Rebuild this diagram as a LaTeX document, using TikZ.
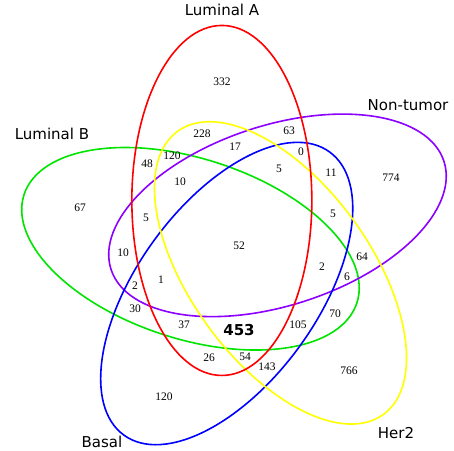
\documentclass[tikz,border=0pt]{standalone}
\usepackage{fontspec}
\setmainfont{Liberation Serif}
\newfontfamily\labelfont{DejaVu Sans}
\usetikzlibrary{positioning}
\definecolor{vgreen}{RGB}{0,228,0}
\definecolor{vpurple}{RGB}{140,0,255}
\definecolor{vblue}{RGB}{0,0,255}
\definecolor{vyellow}{RGB}{255,255,0}
\tikzset{
set/.style={line width=1.6pt},
count/.style={inner sep=0pt, font=\fontsize{11.5}{11.5}\selectfont},
setname/.style={inner sep=0pt, font=\labelfont\fontsize{15}{15}\selectfont},
}

\begin{document}
\begin{tikzpicture}[x=1pt, y=1pt]
    \useasboundingbox (0,0) rectangle (454,450);
    \coordinate (O) at (239.4,203.8);
    \coordinate (cA) at ([shift={(111:49)}]O);
    \coordinate (cNT) at ([shift={(39:49)}]O);
    \coordinate (cB) at ([shift={(183:49)}]O);
    \coordinate (cBas) at ([shift={(255:49)}]O);
    \coordinate (cH) at ([shift={(327:49)}]O);

    \draw[set, vgreen, rotate around={162:(cB)}] (cB) ellipse [x radius=175, y radius=90];
    \draw[set, vpurple, rotate around={18:(cNT)}] (cNT) ellipse [x radius=175, y radius=90];
    \draw[set, vblue, rotate around={54:(cBas)}] (cBas) ellipse [x radius=175, y radius=90];
    \draw[set, vyellow, rotate around={-54:(cH)}] (cH) ellipse [x radius=175, y radius=90];
    \draw[set, red, rotate around={90:(cA)}] (cA) ellipse [x radius=175, y radius=90];

    % set names
    \node[setname] (lumA) at (222,440) {Luminal A};
    \node[setname] (nontumor) at (408,345) {Non-tumor};
    \node[setname] (lumB) at (52,316) {Luminal B};
    \node[setname] (basal) at (102,8) {Basal};
    \node[setname] (her2) at (396,17) {Her2};

    % counts
    \node[count] (n332) at (222,368) {332};
    \node[count] (n228) at (202,316) {228};
    \node[count] (n63) at (289,319) {63};
    \node[count] (n17) at (235,303) {17};
    \node[count] (n0) at (301,298) {0};
    \node[count] (n48) at (147,286) {48};
    \node[count] (n120a) at (172,294) {120};
    \node[count] (n11) at (331,277) {11};
    \node[count] (n774) at (391,272) {774};
    \node[count] (n5a) at (279,281) {5};
    \node[count] (n10a) at (180,268) {10};
    \node[count] (n67) at (80,242) {67};
    \node[count] (n5b) at (146,232) {5};
    \node[count] (n5c) at (333,236) {5};
    \node[count] (n52) at (239,204) {52};
    \node[count] (n10b) at (123,197) {10};
    \node[count] (n64) at (362,193) {64};
    \node[count] (n2a) at (322,183) {2};
    \node[count] (n1) at (161,170) {1};
    \node[count] (n2b) at (135,164) {2};
    \node[count] (n6) at (347,173) {6};
    \node[count] (n30) at (135,141) {30};
    \node[count] (n70) at (335,136) {70};
    \node[count] (n37) at (184,125) {37};
    \node[inner sep=0pt, font=\labelfont\bfseries\fontsize{15}{15}\selectfont] (n453) at (239,120) {453};
    \node[count] (n105) at (298,125) {105};
    \node[count] (n26) at (209,92) {26};
    \node[count] (n54) at (245,93) {54};
    \node[count] (n143) at (267,83) {143};
    \node[count] (n766) at (349,79) {766};
    \node[count] (n120b) at (164,53) {120};
\end{tikzpicture}
\end{document}
